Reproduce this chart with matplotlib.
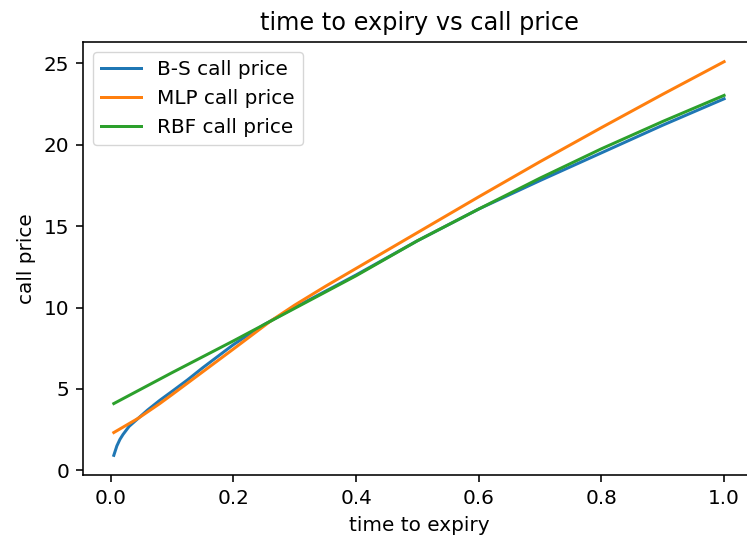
import matplotlib
matplotlib.use("Agg")
import matplotlib.pyplot as plt

# time to expiry (years) and the three call-price curves
t_bs = [0.005, 0.01, 0.015, 0.02, 0.03, 0.045, 0.06, 0.08, 0.1, 0.125, 0.15,
        0.2, 0.25, 0.3, 0.35, 0.4, 0.5, 0.6, 0.7, 0.8, 0.9, 1.0]
bs_price = [0.92, 1.5, 1.9, 2.2, 2.7, 3.2, 3.7, 4.3, 4.85, 5.55, 6.3,
            7.72, 8.95, 10.0, 11.0, 12.0, 14.1, 16.05, 17.8, 19.5, 21.2, 22.82]

t_mlp = [0.005, 0.02, 0.045, 0.08, 0.1, 0.15, 0.2, 0.26, 0.3, 0.35, 0.4,
         0.5, 0.6, 0.7, 0.8, 0.9, 1.0]
mlp_price = [2.32, 2.65, 3.2, 4.1, 4.65, 6.05, 7.45, 9.15, 10.15, 11.3, 12.4,
             14.6, 16.8, 18.96, 21.05, 23.1, 25.1]

t_rbf = [0.005, 0.1, 0.2, 0.26, 0.3, 0.35, 0.4, 0.5, 0.6, 0.7, 0.8, 0.9, 1.0]
rbf_price = [4.1, 6.0, 7.95, 9.15, 9.95, 10.95, 11.95, 14.1, 16.05, 17.95,
             19.75, 21.43, 23.03]

s = 1.44
plt.rcParams.update({
    "font.size": 10 * s,
    "axes.titlesize": 12 * s,
    "axes.labelsize": 10 * s,
    "xtick.labelsize": 10 * s,
    "ytick.labelsize": 10 * s,
    "legend.fontsize": 10 * s,
    "lines.linewidth": 1.5 * s,
    "xtick.major.size": 3.5 * s,
    "ytick.major.size": 3.5 * s,
    "xtick.major.width": 0.8 * s,
    "ytick.major.width": 0.8 * s,
    "axes.linewidth": 0.8 * s,
    "xtick.major.pad": 3.5 * s,
    "ytick.major.pad": 3.5 * s,
    "axes.titlepad": 6 * s,
    "axes.labelpad": 4 * s,
    "legend.frameon": True,
})

fig = plt.figure(figsize=(7.47, 5.42), dpi=100)
ax = fig.add_axes([0.1115, 0.1236, 0.8987, 0.7989])

ax.plot(t_bs, bs_price, label="B-S call price")
ax.plot(t_mlp, mlp_price, label="MLP call price")
ax.plot(t_rbf, rbf_price, label="RBF call price")

ax.set_title("time to expiry vs call price")
ax.set_xlabel("time to expiry")
ax.set_ylabel("call price")
ax.set_xticks([0.0, 0.2, 0.4, 0.6, 0.8, 1.0])
ax.set_yticks([0, 5, 10, 15, 20, 25])
ax.legend(loc="upper left")

fig.savefig("out.png", dpi=100)
